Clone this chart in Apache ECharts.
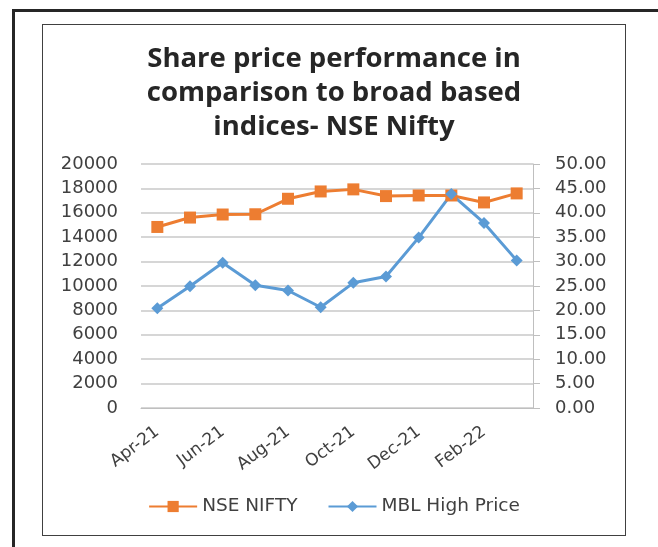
<!DOCTYPE html>
<html>
<head>
<meta charset="utf-8">
<script src="https://cdn.jsdelivr.net/npm/echarts@6/dist/echarts.min.js"></script>
<style>
    body { margin: 0; background: #fff; }
    #frameTop { position: absolute; left: 12px; top: 9px; width: 646px; height: 3px; background: #262626; }
    #frameLeft { position: absolute; left: 12px; top: 9px; width: 3px; height: 538px; background: #262626; }
    #chart { position: absolute; left: 42px; top: 24px; width: 582px; height: 510px; border: 1.5px solid #404040; }
</style>
</head>
<body>
<div id="frameTop"></div>
<div id="frameLeft"></div>
<div id="chart"></div>
<script>
let months = ['Apr-21', 'May-21', 'Jun-21', 'Jul-21', 'Aug-21', 'Sep-21', 'Oct-21', 'Nov-21', 'Dec-21', 'Jan-22', 'Feb-22', 'Mar-22']
let nifty = [14840, 15610, 15860, 15880, 17150, 17750, 17920, 17370, 17420, 17420, 16850, 17590]
let mblHigh = [20.43, 24.96, 29.77, 25.17, 24.07, 20.64, 25.65, 26.95, 34.92, 43.83, 37.92, 30.25]

let textColor = '#404040'
let labelFont = '"DejaVu Sans"'

let chart = echarts.init(document.querySelector('#chart'))
let option = {
    animation: false,
    title: {
        text: 'Share price performance in\ncomparison to broad based\nindices- NSE Nifty',
        left: 'center',
        top: 12,
        textStyle: {
            fontFamily: '"Open Sans"',
            fontWeight: 'bold',
            fontSize: 27.5,
            lineHeight: 34,
            color: '#262626'
        }
    },
    legend: {
        bottom: 14,
        left: 'center',
        itemWidth: 48,
        itemHeight: 14,
        itemGap: 30,
        textStyle: { fontFamily: labelFont, fontSize: 18.5, color: textColor },
        data: ['NSE NIFTY', 'MBL High Price']
    },
    grid: { left: 98, right: 92, top: 139, bottom: 127 },
    xAxis: {
        type: 'category',
        data: months,
        boundaryGap: true,
        axisLine: { lineStyle: { color: '#bfbfbf', width: 1 } },
        axisTick: { show: false },
        axisLabel: {
            interval: 1,
            rotate: 37,
            margin: 22,
            fontFamily: labelFont,
            fontSize: 17,
            color: textColor
        }
    },
    yAxis: [
        {
            type: 'value',
            min: 0,
            max: 20000,
            interval: 2000,
            axisLine: { show: false },
            axisTick: { show: false },
            splitLine: { lineStyle: { color: '#c8c8c8', width: 1.5 } },
            axisLabel: {
                margin: 23,
                fontFamily: labelFont,
                fontSize: 18,
                color: textColor,
                formatter: v => String(v)
            }
        },
        {
            type: 'value',
            min: 0,
            max: 50,
            interval: 5,
            position: 'right',
            axisLine: { show: true, lineStyle: { color: '#bfbfbf', width: 1 } },
            axisTick: { show: true, inside: false, length: 7, lineStyle: { color: '#bfbfbf' } },
            splitLine: { show: false },
            axisLabel: {
                margin: 22,
                fontFamily: labelFont,
                fontSize: 18,
                color: textColor,
                formatter: v => v.toFixed(2)
            }
        }
    ],
    series: [
        {
            name: 'NSE NIFTY',
            type: 'line',
            yAxisIndex: 0,
            data: nifty,
            symbol: 'rect',
            symbolSize: 12,
            lineStyle: { color: '#ED7D31', width: 3 },
            itemStyle: { color: '#ED7D31' }
        },
        {
            name: 'MBL High Price',
            type: 'line',
            yAxisIndex: 1,
            data: mblHigh,
            symbol: 'diamond',
            symbolSize: 12,
            lineStyle: { color: '#5B9BD5', width: 3 },
            itemStyle: { color: '#5B9BD5' }
        }
    ]
}
chart.setOption(option)
</script>
</body>
</html>
